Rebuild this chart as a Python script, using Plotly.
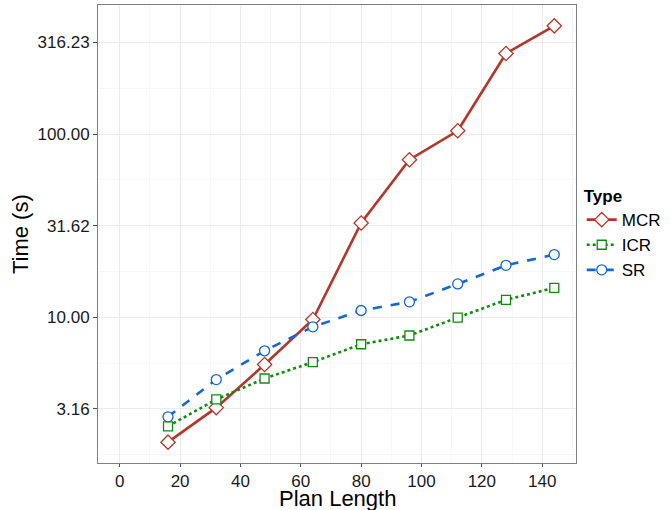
import plotly.graph_objects as go
import math

plan_length = [16, 32, 48, 64, 80, 96, 112, 128, 144]
mcr = [2.08, 3.21, 5.52, 9.72, 32.7, 72.4, 104.2, 275.0, 389.5]
icr = [2.54, 3.56, 4.63, 5.69, 7.12, 7.95, 9.96, 12.44, 14.46]
sr = [2.86, 4.57, 6.56, 8.86, 10.88, 12.13, 15.2, 19.2, 21.98]

y_tick_vals = [3.16, 10.0, 31.62, 100.0, 316.23]
y_tick_text = ["3.16", "10.00", "31.62", "100.00", "316.23"]
x_tick_vals = [0, 20, 40, 60, 80, 100, 120, 140]

FONT = "Liberation Sans, Arial, sans-serif"

fig = go.Figure()
series = [
    ("MCR", mcr, "#B2372A", "solid", "diamond", 11),
    ("ICR", icr, "#108A10", "dot", "square", 9),
    ("SR", sr, "#1466D0", "dash", "circle", 10),
]
for name, vals, col, dash, sym, size in series:
    fig.add_trace(go.Scatter(
        x=plan_length, y=vals, name=name, mode="lines+markers",
        line=dict(color=col, width=2.6, dash=dash),
        marker=dict(symbol=sym, size=size, color="white",
                    line=dict(color=col, width=1.3)),
    ))

# data-derived ranges with ggplot-style 5% expansion (x limits include 0)
xmin, xmax = 0, max(plan_length)
xpad = 0.05 * (xmax - xmin)
allv = mcr + icr + sr
lmin, lmax = math.log10(min(allv)), math.log10(max(allv))
lpad = 0.05 * (lmax - lmin)

minor_y = [10 ** (k + 0.25) for k in range(0, 3)] + [10 ** (k + 0.75) for k in range(0, 3)]

fig.update_layout(
    width=671, height=510,
    margin=dict(l=98, r=95, t=5, b=47, autoexpand=False),
    paper_bgcolor="white", plot_bgcolor="white",
    font=dict(family=FONT, color="#1a1a1a"),
    legend=dict(
        title=dict(text="<b>Type</b>", font=dict(size=17, family=FONT, color="black")),
        font=dict(size=17, family=FONT, color="black"),
        x=1.012, xanchor="left", y=0.5, yanchor="middle",
        itemwidth=30, tracegroupgap=0,
        bgcolor="rgba(0,0,0,0)",
    ),
    xaxis=dict(
        range=[xmin - xpad, xmax + xpad],
        tickmode="array", tickvals=x_tick_vals,
        ticks="outside", ticklen=3, tickcolor="#4d4d4d", tickwidth=1,
        tickfont=dict(size=17, family=FONT, color="#1a1a1a"),
        showgrid=True, gridcolor="#EBEBEB", gridwidth=1,
        minor=dict(tickmode="array", tickvals=[10, 30, 50, 70, 90, 110, 130, 150],
                   showgrid=True, gridcolor="#F7F7F7", gridwidth=1),
        showline=True, linecolor="#7F7F7F", linewidth=1, mirror=True,
        zeroline=False,
    ),
    yaxis=dict(
        type="log",
        range=[lmin - lpad, lmax + lpad],
        tickmode="array", tickvals=y_tick_vals, ticktext=y_tick_text,
        ticks="outside", ticklen=4, tickcolor="#4d4d4d", tickwidth=1,
        tickfont=dict(size=17, family=FONT, color="#1a1a1a"),
        showgrid=True, gridcolor="#EBEBEB", gridwidth=1,
        minor=dict(tickmode="array", tickvals=minor_y,
                   showgrid=True, gridcolor="#F7F7F7", gridwidth=1),
        showline=True, linecolor="#7F7F7F", linewidth=1, mirror=True,
        zeroline=False,
    ),
    annotations=[
        dict(text="Plan Length", xref="paper", yref="paper", x=0.5, y=-0.046,
             xanchor="center", yanchor="top", showarrow=False,
             font=dict(size=22, family=FONT, color="black")),
        dict(text="Time (s)", xref="paper", yref="paper", x=-0.163, y=0.5,
             xanchor="center", yanchor="middle", showarrow=False, textangle=-90,
             font=dict(size=22, family=FONT, color="black")),
    ],
)

fig.write_html("out.html", config={"displayModeBar": False},
               post_script="document.body.style.margin='0px';")
